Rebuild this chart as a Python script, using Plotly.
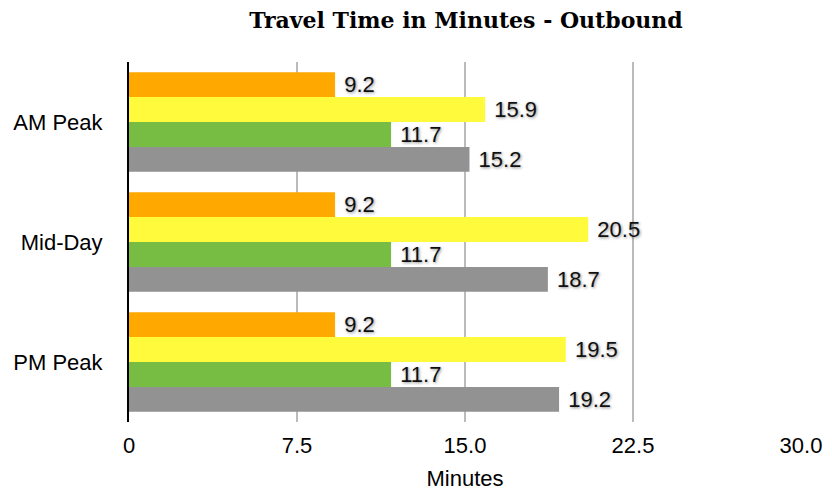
import plotly.graph_objects as go

categories = ["AM Peak", "Mid-Day", "PM Peak"]
series_a = [9.2, 9.2, 9.2]
series_b = [15.9, 20.5, 19.5]
series_c = [11.7, 11.7, 11.7]
series_d = [15.2, 18.7, 19.2]
colors = ["#FFA800", "#FFFA3C", "#77BC43", "#929292"]
x_ticks = [0, 7.5, 15.0, 22.5, 30.0]
x_tick_text = ["0", "7.5", "15.0", "22.5", "30.0"]

FONT = "Liberation Sans, Arial, Helvetica"

fig = go.Figure()
for vals, col in zip([series_a, series_b, series_c, series_d], colors):
    fig.add_trace(go.Bar(
        y=categories, x=vals, orientation="h",
        marker=dict(color=col, line=dict(width=0)),
        text=["\u00a0" + f"{v:.1f}" for v in vals], textposition="outside",
        constraintext="none",
        textfont=dict(family=FONT, size=22, color="#111111",
                      shadow="1px 1px 3px rgba(0,0,0,0.45)"),
        cliponaxis=False, showlegend=False,
    ))

fig.update_layout(
    width=832, height=495,
    margin=dict(l=129, r=31, t=62, b=73, autoexpand=False),
    barmode="group", bargap=0.17, bargroupgap=0,
    plot_bgcolor="white", paper_bgcolor="white",
    title=dict(text="<b>Travel Time in Minutes - Outbound</b>", x=0.56, xanchor="center",
               y=0.958, yanchor="middle",
               font=dict(family="DejaVu Serif, Liberation Serif", size=22, color="black")),
    xaxis=dict(range=[0, 30], tickvals=x_ticks, ticktext=x_tick_text, automargin=False,
               showgrid=True, gridcolor="#BBBBBB", gridwidth=2, zeroline=False,
               showline=False, ticks="", ticklabelstandoff=8,
               tickfont=dict(family=FONT, size=22, color="black"),
               title=dict(text="Minutes", font=dict(family=FONT, size=22, color="black"), standoff=13)),
    yaxis=dict(autorange="reversed", showgrid=False, showline=True, linecolor="black", linewidth=2,
               ticks="", ticklabelstandoff=20, automargin=False,
               tickfont=dict(family=FONT, size=22, color="black")),
)
fig.write_html("out.html")
